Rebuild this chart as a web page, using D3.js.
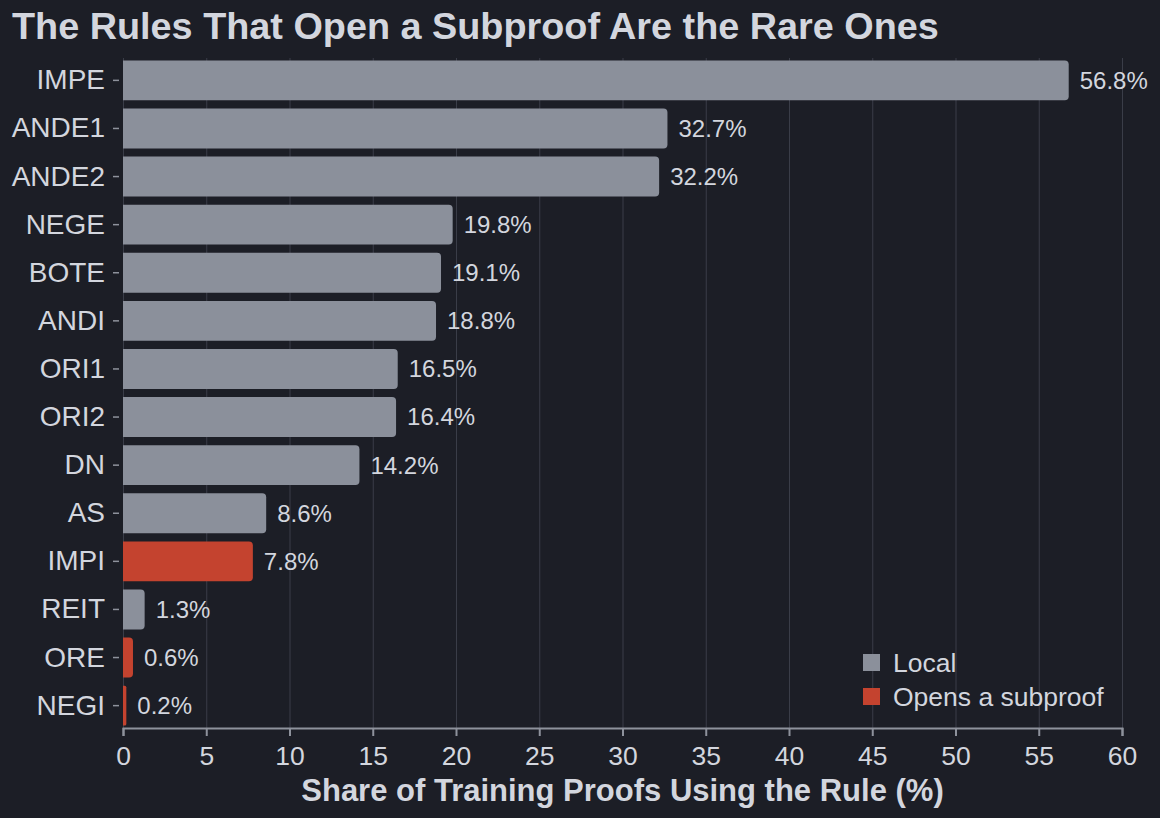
<!DOCTYPE html>
<html>
<head>
<meta charset="utf-8">
<script src="https://cdn.jsdelivr.net/npm/d3@7"></script>
<style>
  html, body { margin: 0; padding: 0; background: #1c1e26; }
  svg { display: block; font-family: "Liberation Sans", Arial, sans-serif; }
</style>
</head>
<body>
<div id="chart"></div>
<script>
// rule names, top to bottom
var rules = ["IMPE", "ANDE1", "ANDE2", "NEGE", "BOTE", "ANDI", "ORI1", "ORI2", "DN", "AS", "IMPI", "REIT", "ORE", "NEGI"];
// share of training proofs using each rule (%)
var shares = [56.8, 32.7, 32.2, 19.8, 19.1, 18.8, 16.5, 16.4, 14.2, 8.6, 7.8, 1.3, 0.6, 0.2];
// rule kind
var kinds = ["Local", "Local", "Local", "Local", "Local", "Local", "Local", "Local", "Local", "Local",
             "Opens a subproof", "Local", "Opens a subproof", "Opens a subproof"];
var kindNames = ["Local", "Opens a subproof"];
var xTicks = [0, 5, 10, 15, 20, 25, 30, 35, 40, 45, 50, 55, 60];

var W = 1160, H = 818;
var margin = {top: 58, right: 38, bottom: 90, left: 123};
var iw = W - margin.left - margin.right;
var ih = H - margin.top - margin.bottom;

var textCol = "#d3d6de";
var data = rules.map(function(r, i) { return {rule: r, share: shares[i], kind: kinds[i]}; });

var svg = d3.select("#chart").append("svg")
	.attr("width", W)
	.attr("height", H);

svg.append("rect").attr("width", W).attr("height", H).attr("fill", "#1c1e26");

var g = svg.append("g").attr("transform", "translate(" + margin.left + "," + margin.top + ")");

var x = d3.scaleLinear().domain([0, 60]).range([0, iw]);
var y = d3.scaleBand().domain(rules).range([0, ih]).paddingInner(0.17).paddingOuter(0.05);
var color = d3.scaleOrdinal().domain(kindNames).range(["#8b909b", "#c4432f"]);

// gridlines
g.selectAll(".grid").data(xTicks).enter().append("line")
	.attr("x1", function(d) { return x(d) + 0.5; })
	.attr("x2", function(d) { return x(d) + 0.5; })
	.attr("y1", 0).attr("y2", ih)
	.attr("stroke", "#3a3d48").attr("stroke-width", 1);

// bars, rounded at the end only
function barPath(d) {
	var w = x(d.share), h = y.bandwidth(), y0 = y(d.rule);
	var r = Math.min(4, w / 2);
	return "M0," + y0 + "H" + (w - r) + "Q" + w + "," + y0 + " " + w + "," + (y0 + r) +
		"V" + (y0 + h - r) + "Q" + w + "," + (y0 + h) + " " + (w - r) + "," + (y0 + h) + "H0Z";
}
g.selectAll(".bar").data(data).enter().append("path")
	.attr("d", barPath)
	.attr("fill", function(d) { return color(d.kind); });

// value labels
g.selectAll(".val").data(data).enter().append("text")
	.attr("x", function(d) { return x(d.share) + 11; })
	.attr("y", function(d) { return y(d.rule) + y.bandwidth() / 2; })
	.attr("dy", "0.35em")
	.attr("fill", textCol)
	.style("font-size", "24px")
	.text(function(d) { return d.share.toFixed(1) + "%"; });

// x axis
var xAxis = g.append("g")
	.attr("transform", "translate(0," + ih + ")")
	.call(d3.axisBottom(x).tickValues(xTicks).tickSize(8).tickPadding(10));
xAxis.select(".domain").attr("stroke", "#8e929c").attr("stroke-width", 2);
xAxis.selectAll(".tick line").attr("stroke", "#8e929c").attr("stroke-width", 2);
xAxis.selectAll(".tick text").attr("fill", textCol).style("font-size", "26.5px");

// y axis
var yAxis = g.append("g")
	.call(d3.axisLeft(y).tickSize(6).tickPadding(12));
yAxis.select(".domain").remove();
yAxis.selectAll(".tick line").attr("stroke", "#8e929c").attr("stroke-width", 1.5)
	.attr("transform", "translate(-4,0)");
yAxis.selectAll(".tick text").attr("fill", textCol).style("font-size", "28px");

// title
svg.append("text")
	.attr("x", 12).attr("y", 39)
	.attr("fill", textCol)
	.style("font-size", "37.8px").style("font-weight", "bold")
	.text("The Rules That Open a Subproof Are the Rare Ones");

// x axis title
svg.append("text")
	.attr("x", margin.left + iw / 2).attr("y", 801)
	.attr("text-anchor", "middle")
	.attr("fill", textCol)
	.style("font-size", "31px").style("font-weight", "bold")
	.text("Share of Training Proofs Using the Rule (%)");

// legend
var legend = svg.append("g").attr("transform", "translate(863,654)");
var li = legend.selectAll(".li").data(kindNames).enter().append("g")
	.attr("transform", function(d, i) { return "translate(0," + (i * 34) + ")"; });
li.append("rect").attr("width", 17).attr("height", 17)
	.attr("fill", function(d) { return color(d); });
li.append("text").attr("x", 30).attr("y", 8.5).attr("dy", "0.35em")
	.attr("fill", textCol).style("font-size", "26.5px")
	.text(function(d) { return d; });
</script>
</body>
</html>
